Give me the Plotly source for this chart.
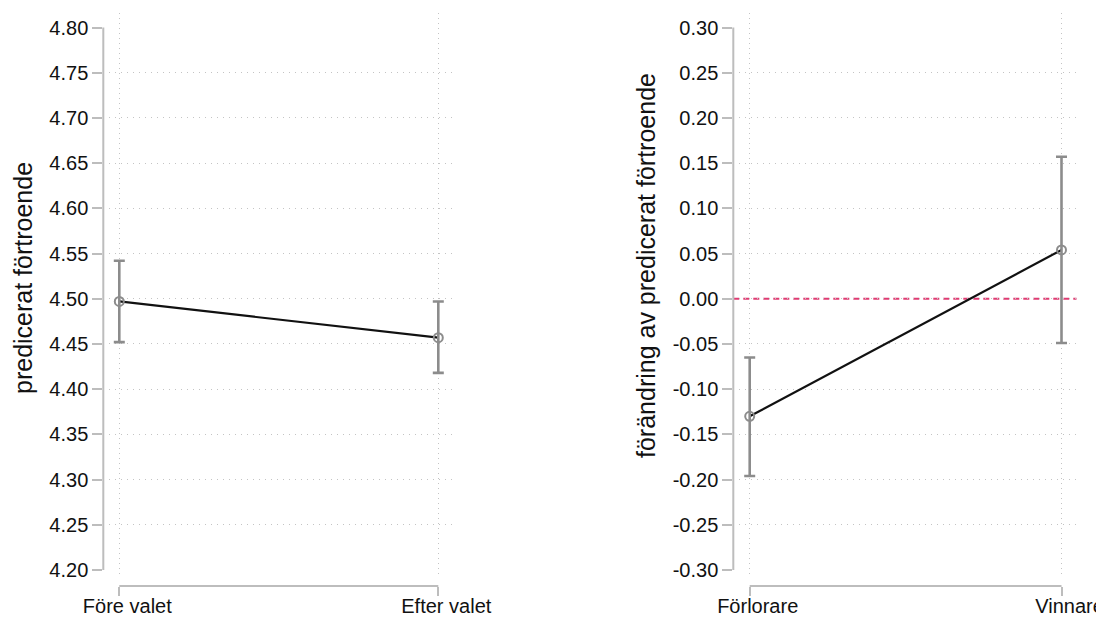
import plotly.graph_objects as go

# browser page has an 8px body margin: figure drawn at (8,8) in the 1104x618 window
OFF = 8
W, H = 1104 - OFF, 618 - OFF

# ---- data ----
left_categories = ["Före valet", "Efter valet"]
left_pred = [4.497, 4.457]
left_lo = [4.452, 4.418]
left_hi = [4.542, 4.497]

right_categories = ["Förlorare", "Vinnare"]
right_pred = [-0.130, 0.054]
right_lo = [-0.196, -0.049]
right_hi = [-0.065, 0.157]

left_yticks = [4.20, 4.25, 4.30, 4.35, 4.40, 4.45, 4.50, 4.55, 4.60, 4.65, 4.70, 4.75, 4.80]
right_yticks = [-0.30, -0.25, -0.20, -0.15, -0.10, -0.05, 0.00, 0.05, 0.10, 0.15, 0.20, 0.25, 0.30]

left_title = "predicerat förtroende"
right_title = "förändring av predicerat förtroende"

# ---- style ----
FONT = "Liberation Sans, Arial, sans-serif"
GRID = "#c4c4c4"
AXIS = "#bdbdbd"
BAR = "#8c8c8c"
TICKFONT = 20
TITLEFONT = 25


def px_x(p):
    return (p - OFF) / W


def px_y(p):
    return 1 - (p - OFF) / H


def fmt(v):
    s = f"{v:.2f}"
    return "0.00" if s == "-0.00" else s


fig = go.Figure()


def add_panel(cats, pred, lo, hi, xa, ya):
    fig.add_trace(go.Scatter(
        x=cats, y=pred, mode="lines", xaxis=xa, yaxis=ya,
        line=dict(color="#111111", width=2.2), showlegend=False, hoverinfo="skip"))
    fig.add_trace(go.Scatter(
        x=cats, y=pred, mode="markers", xaxis=xa, yaxis=ya,
        marker=dict(symbol="circle-open", size=9, color=BAR, line=dict(width=2, color=BAR)),
        error_y=dict(type="data", symmetric=False,
                     array=[h - p for h, p in zip(hi, pred)],
                     arrayminus=[p - l for p, l in zip(pred, lo)],
                     color=BAR, thickness=2.6, width=5.5),
        showlegend=False))


add_panel(left_categories, left_pred, left_lo, left_hi, "x", "y")
add_panel(right_categories, right_pred, right_lo, right_hi, "x2", "y2")

# pixel geometry (window pixels)
top_px, bot_px = 13, 577
xaxis_px = 586


def yaxis_cfg(ticks, anchor, y_top_px=27.5, y_bot_px=570):
    lo_v, hi_v = ticks[0], ticks[-1]
    per = (y_bot_px - y_top_px) / (hi_v - lo_v)
    rng = [lo_v - (bot_px - y_bot_px) / per, hi_v + (y_top_px - top_px) / per]
    return dict(
        domain=[px_y(bot_px), px_y(top_px)], range=rng, anchor=anchor,
        tickmode="array", tickvals=ticks, ticktext=[fmt(v) for v in ticks],
        ticks="outside", ticklen=10, tickwidth=2, tickcolor=AXIS,
        tickfont=dict(family=FONT, size=TICKFONT, color="#111111"),
        showgrid=False, zeroline=False, showline=False, automargin=False,
        ticklabelstandoff=0,
        minor=dict(tickvals=ticks[1:-1], showgrid=True, gridcolor=GRID,
                   gridwidth=1, griddash="1px,5px", ticks=""),
    )


def xaxis_cfg(cats, dom_l, cat0, cat1, dom_r):
    per = cat1 - cat0
    rng = [-(cat0 - dom_l) / per, 1 + (dom_r - cat1) / per]
    return dict(
        domain=[px_x(dom_l), px_x(dom_r)], range=rng, type="category",
        anchor="free", position=px_y(xaxis_px),
        tickmode="array", tickvals=cats, ticktext=cats,
        ticks="outside", ticklen=9, tickwidth=2, tickcolor=AXIS,
        tickfont=dict(family=FONT, size=TICKFONT, color="#111111"),
        showgrid=True, gridcolor=GRID, gridwidth=1, griddash="1px,4px",
        zeroline=False, showline=False, automargin=False,
        ticklabelshift=8, ticklabelstandoff=-7,
    )


layout = dict(
    width=W, height=H, margin=dict(l=0, r=0, t=0, b=0),
    paper_bgcolor="white", plot_bgcolor="white",
    font=dict(family=FONT, size=TICKFONT, color="#111111"),
    showlegend=False,
    xaxis=xaxis_cfg(left_categories, 103.3, 119.3, 438.3, 452),
    yaxis=yaxis_cfg(left_yticks, "x"),
    xaxis2=xaxis_cfg(right_categories, 733.3, 749.7, 1061.5, 1076.5),
    yaxis2=yaxis_cfg(right_yticks, "x2"),
)
fig.update_layout(**layout)

shapes = []
# y axis lines (only between first and last tick)
for xd, yr, ticks in (("x domain", "y", left_yticks), ("x2 domain", "y2", right_yticks)):
    shapes.append(dict(type="line", xref=xd, yref=yr, x0=0, x1=0,
                       y0=ticks[0], y1=ticks[-1], line=dict(color=AXIS, width=2)))
# x axis lines (between first and last category)
for xr, cats in (("x", left_categories), ("x2", right_categories)):
    shapes.append(dict(type="line", xref=xr, yref="paper", x0=cats[0], x1=cats[-1],
                       y0=px_y(xaxis_px), y1=px_y(xaxis_px), line=dict(color=AXIS, width=2)))
# reference line at zero in right panel
shapes.append(dict(type="line", xref="x2 domain", yref="y2", x0=0, x1=1, y0=0, y1=0,
                   line=dict(color="#e03a72", width=2, dash="6px,4px"), layer="below"))
fig.update_layout(shapes=shapes)

fig.add_annotation(text=left_title, xref="paper", yref="paper", x=px_x(23), y=px_y(278),
                   textangle=-90, showarrow=False, xanchor="center", yanchor="middle",
                   borderpad=0,
                   font=dict(family=FONT, size=TITLEFONT, color="#111111"))
fig.add_annotation(text=right_title, xref="paper", yref="paper", x=px_x(646), y=px_y(266),
                   textangle=-90, showarrow=False, xanchor="center", yanchor="middle",
                   borderpad=0,
                   font=dict(family=FONT, size=TITLEFONT, color="#111111"))

fig.write_html("out.html")
